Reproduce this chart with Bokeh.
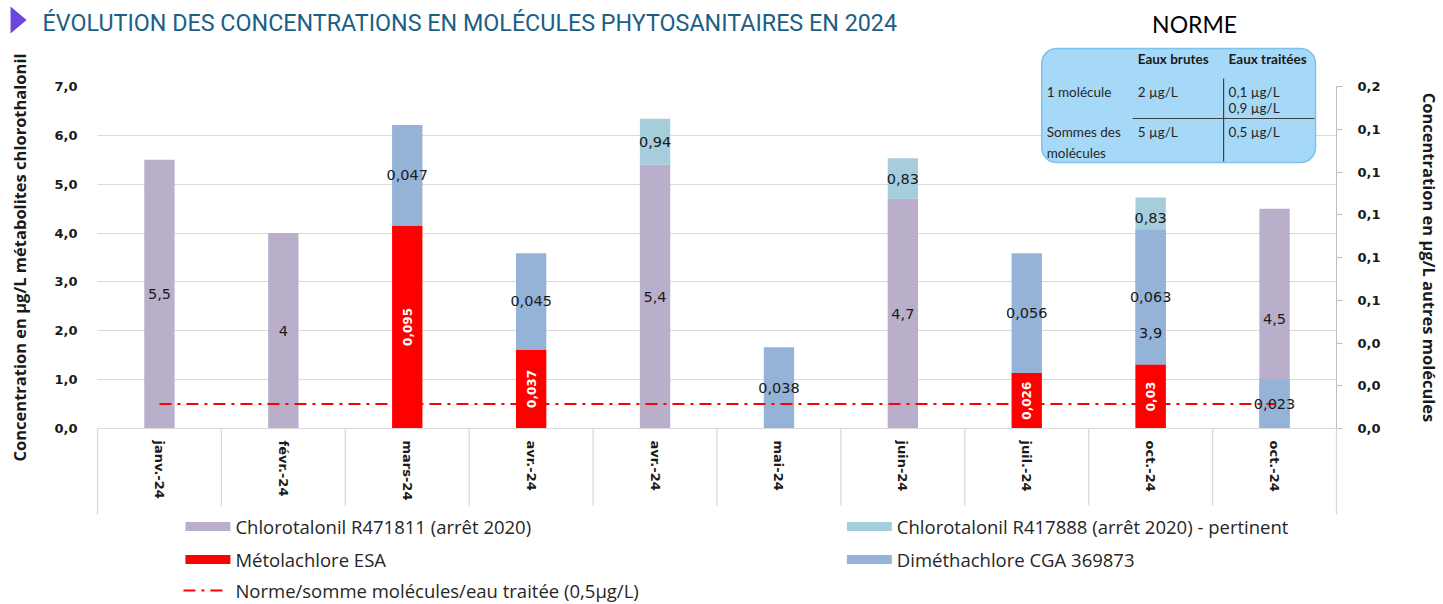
from math import pi
from bokeh.plotting import figure
from bokeh.models import Range1d, LinearAxis, FixedTicker, ColumnDataSource
from bokeh.core.properties import value
from bokeh.embed import file_html
from bokeh.resources import INLINE

# ---------------- data ----------------
categories = ["janv.-24", "févr.-24", "mars-24", "avr.-24", "avr.-24",
              "mai-24", "juin-24", "juil.-24", "oct.-24", "oct.-24"]
chloro_r471811 = [5.5, 4.0, 0, 0, 5.4, 0, 4.7, 0, 3.9, 4.5]          # left axis
chloro_r417888 = [0, 0, 0, 0, 0.94, 0, 0.83, 0, 0.83, 0]             # left axis
metolachlore_esa = [0, 0, 0.095, 0.037, 0, 0, 0, 0.026, 0.03, 0]     # right axis
dimethachlore = [0, 0, 0.047, 0.045, 0, 0.038, 0, 0.056, 0.063, 0.023]  # right axis
norme = [0.5, 0.5, 0.5, 0.5, 0.5, 0.5, 0.5, 0.5, 0.5, 0.5]            # left axis

left_ticks = [0, 1, 2, 3, 4, 5, 6, 7]
right_ticks = [0.0, 0.02, 0.04, 0.06, 0.08, 0.10, 0.12, 0.14, 0.16]

series_names = ["Chlorotalonil R471811 (arrêt 2020)",
                "Chlorotalonil R417888 (arrêt 2020) - pertinent",
                "Métolachlore ESA",
                "Diméthachlore CGA 369873",
                "Norme/somme molécules/eau traitée (0,5µg/L)"]

title_text = "ÉVOLUTION DES CONCENTRATIONS EN MOLÉCULES PHYTOSANITAIRES EN 2024"
left_title = "Concentration en µg/L métabolites chlorothalonil"
right_title = "Concentration en µg/L autres molécules"

# ---------------- styles ----------------
C_PURPLE = "#b9afcb"
C_LBLUE = "#a6cddb"
C_RED = "#ff0000"
C_BLUE = "#95b3d7"
C_GRID = "#d9d9d9"
TXT = "#1a1a1a"
DASH = "12 6 3 6"

def fmt(v):
    return f"{v:g}".replace(".", ",")

n = len(categories)
xs = list(range(n))

# frame: page x 97..1337, y 86..428
p = figure(width=1443, height=604, output_backend="svg", toolbar_location=None,
           x_range=Range1d(-0.5, n - 0.5), y_range=Range1d(0, 7),
           min_border_left=97, min_border_right=106, min_border_top=86,
           min_border_bottom=176)
p.outline_line_color = None
p.background_fill_color = "white"
p.border_fill_color = "white"
p.extra_y_ranges = {"sec": Range1d(0, 0.16), "py": Range1d(428, 86)}
p.extra_x_ranges = {"px": Range1d(97, 1337)}

p.xgrid.visible = False
p.ygrid.grid_line_color = C_GRID

src = ColumnDataSource(dict(x=xs, r471811=chloro_r471811, r417888=chloro_r417888,
                            met=metolachlore_esa, dim=dimethachlore, norme=norme))

BW = 0.245
prim = p.vbar_stack(["r471811", "r417888"], x="x", width=BW, source=src,
                    fill_color=[C_PURPLE, C_LBLUE], line_color=None)
sec = p.vbar_stack(["met", "dim"], x="x", width=BW, source=src,
                   fill_color=[C_RED, C_BLUE], line_color=None, y_range_name="sec")
ln = p.line("x", "norme", source=src, line_color=C_RED, line_width=2, line_dash=DASH)

# data labels
pl = dict(x=[], y=[], t=[])
for i in range(n):
    a, b = chloro_r471811[i], chloro_r417888[i]
    if a:
        pl["x"].append(i); pl["y"].append(a / 2); pl["t"].append(fmt(a))
    if b:
        pl["x"].append(i); pl["y"].append(a + b / 2); pl["t"].append(fmt(b))
rl = dict(x=[], y=[], t=[])
bl = dict(x=[], y=[], t=[])
for i in range(n):
    a, b = metolachlore_esa[i], dimethachlore[i]
    if a:
        rl["x"].append(i); rl["y"].append(a / 2); rl["t"].append(fmt(a))
    if b:
        bl["x"].append(i); bl["y"].append(a + b / 2); bl["t"].append(fmt(b))

lbl_kw = dict(text_align="center", text_baseline="middle",
              text_font=value("DejaVu Sans"), text_font_size="14.5px", text_color=TXT)
p.text("x", "y", "t", source=ColumnDataSource(pl), **lbl_kw)
p.text("x", "y", "t", source=ColumnDataSource(bl), y_range_name="sec", **lbl_kw)
p.text("x", "y", "t", source=ColumnDataSource(rl), y_range_name="sec", angle=pi / 2,
       text_align="center", text_baseline="middle", text_font=value("DejaVu Sans"),
       text_font_style="bold", text_font_size="12px", text_color="white")

# ---------------- axes ----------------
yl = p.yaxis[0]
yl.ticker = FixedTicker(ticks=left_ticks)
yl.major_label_overrides = {t: f"{t:.1f}".replace(".", ",") for t in left_ticks}
yl.axis_line_color = None
yl.major_tick_line_color = None
yl.major_tick_out = 0
yl.major_tick_in = 0
yl.minor_tick_line_color = None
yl.major_label_text_font = "DejaVu Sans"
yl.major_label_text_font_style = "bold"
yl.major_label_text_font_size = "13px"
yl.major_label_text_color = TXT
yl.major_label_standoff = 20
yl.axis_label = left_title
yl.axis_label_text_font = "Open Sans"
yl.axis_label_text_font_style = "bold"
yl.axis_label_text_font_size = "16.5px"
yl.axis_label_text_color = TXT
yl.axis_label_standoff = 20

yr = LinearAxis(y_range_name="sec", ticker=FixedTicker(ticks=right_ticks),
                major_label_overrides={t: f"{t:.1f}".replace(".", ",") for t in right_ticks},
                axis_line_color="#bfbfbf", major_tick_line_color="#bfbfbf",
                major_tick_out=6, major_tick_in=0, minor_tick_line_color=None,
                major_label_text_font="DejaVu Sans", major_label_text_font_style="bold",
                major_label_text_font_size="13px", major_label_text_color=TXT,
                major_label_standoff=15, axis_label=right_title,
                axis_label_text_font="Open Sans", axis_label_text_font_style="bold",
                axis_label_text_font_size="16.5px", axis_label_text_color=TXT,
                axis_label_standoff=34)
p.add_layout(yr, "right")

xa = p.xaxis[0]
xa.ticker = FixedTicker(ticks=xs)
xa.major_label_overrides = {i: c for i, c in enumerate(categories)}
xa.major_label_orientation = "vertical"
xa.major_tick_line_color = None
xa.major_tick_out = 0
xa.major_tick_in = 0
xa.minor_tick_line_color = None
xa.axis_line_color = C_GRID
xa.major_label_standoff = 12
xa.major_label_text_font = "DejaVu Sans"
xa.major_label_text_font_style = "bold"
xa.major_label_text_font_size = "13px"
xa.major_label_text_color = TXT

# category separators below the axis (boundaries between categories)
bounds = [i - 0.5 for i in range(n + 1)]
p.segment(bounds, [428] * (n + 1), bounds,
          [514 if b in (bounds[0], bounds[-1]) else 505 for b in bounds],
          line_color=C_GRID, line_width=1.3, y_range_name="py", level="overlay")

# ---------------- decorations (page pixel coordinates) ----------------
dec = dict(x_range_name="px", y_range_name="py", level="overlay")
p.patch([10, 26, 10], [6, 19.5, 33], fill_color="#6b46de", line_color=None, **dec)
p.text([42], [22], [title_text], text_align="left", text_baseline="middle",
       text_font=value("Roboto"), text_font_size="23.3px",
       text_color="#1d5e85", **dec)
p.text([1195], [23], ["NORME"], text_align="center", text_baseline="middle",
       text_font=value("Lato"), text_font_size="23px", text_color="black", **dec)
p.quad(left=[1042], right=[1316], top=[48], bottom=[162], border_radius=15,
       fill_color="#a6d8f8", line_color="#7cc3ef", line_width=1.5, **dec)
p.segment([1133, 1224], [118, 78], [1315, 1224], [118, 161],
          line_color="#404040", line_width=1.2, **dec)
tab_x = [1138, 1229]
p.text(tab_x, [58, 58], ["Eaux brutes", "Eaux traitées"], text_align="left",
       text_baseline="middle", text_font=value("Lato"), text_font_style="bold",
       text_font_size="13.5px", text_color="#1a1a1a", **dec)
p.text([1047, 1138, 1229, 1229, 1047, 1138, 1229, 1047],
       [91, 91, 91, 107, 131, 131, 131, 152],
       ["1 molécule", "2 µg/L", "0,1 µg/L", "0,9 µg/L", "Sommes des", "5 µg/L",
        "0,5 µg/L", "molécules"],
       text_align="left", text_baseline="middle", text_font=value("Lato"),
       text_font_size="13.5px", text_color="#262626", **dec)

# ---------------- legend (drawn below the chart, two columns) ----------------
leg_col = [185, 847]
leg_row = [526, 559, 590]
sw_w, sw_h, gap = 45, 9, 50
sw_items = [(0, 0, C_PURPLE), (1, 0, C_LBLUE), (0, 1, C_RED), (1, 1, C_BLUE)]
p.quad(left=[leg_col[c] for c, r, _ in sw_items],
       right=[leg_col[c] + sw_w for c, r, _ in sw_items],
       top=[leg_row[r] - sw_h / 2 for c, r, _ in sw_items],
       bottom=[leg_row[r] + sw_h / 2 for c, r, _ in sw_items],
       fill_color=[col for _, _, col in sw_items], line_color=None, **dec)
p.line([leg_col[0] - 2, leg_col[0] + 39], [leg_row[2], leg_row[2]],
       line_color=C_RED, line_width=2, line_dash=DASH, **dec)
p.text([leg_col[0] + gap, leg_col[1] + gap, leg_col[0] + gap, leg_col[1] + gap,
        leg_col[0] + gap],
       [leg_row[0], leg_row[0], leg_row[1], leg_row[1], leg_row[2]],
       [series_names[0], series_names[1], series_names[2], series_names[3],
        series_names[4]],
       text_align="left", text_baseline="middle", text_font=value("Open Sans"),
       text_font_size="18.5px", text_color="#262626", **dec)

open("out.html", "w").write(file_html(p, INLINE))
